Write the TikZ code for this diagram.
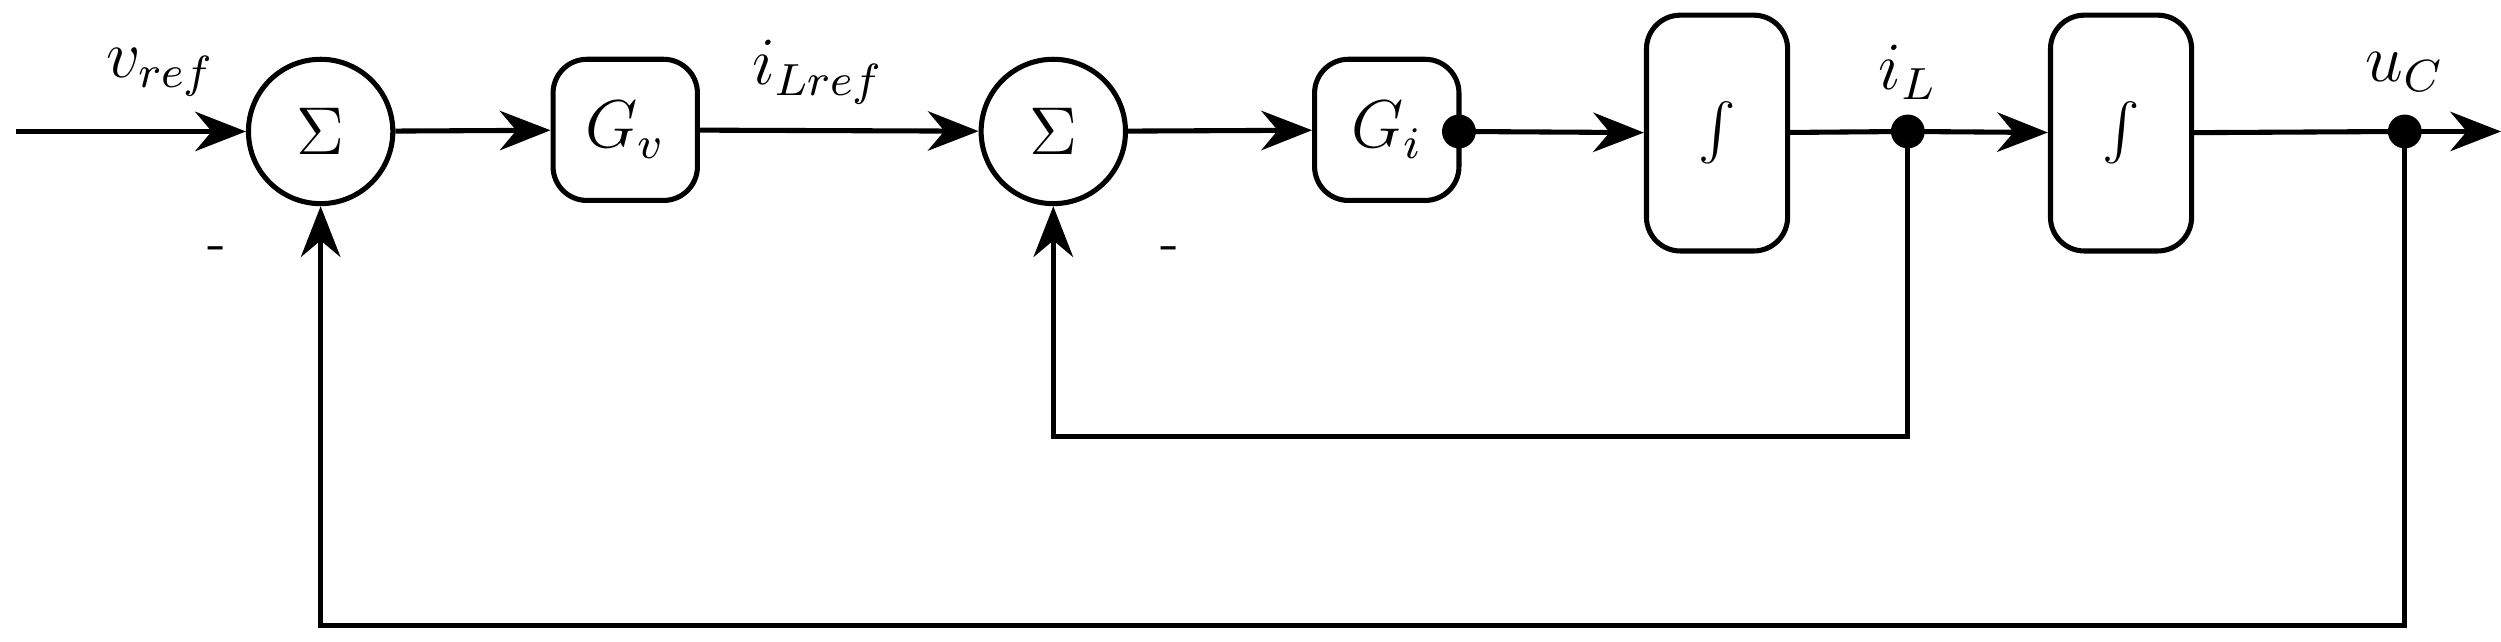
\documentclass[tikz,border=0pt]{standalone}
\usetikzlibrary{arrows.meta}
\begin{document}
\begin{tikzpicture}[x=0.01cm,y=-0.01cm,
  blk/.style={draw,rounded corners=6pt,line width=0.9pt,minimum width=0.9cm,minimum height=0.88cm,font=\large},
  intb/.style={draw,rounded corners=6pt,line width=0.9pt,minimum width=0.88cm,minimum height=1.47cm,font=\Large},
  sumn/.style={draw,circle,line width=0.9pt,minimum size=0.9cm,inner sep=0pt,font=\large},
  ln/.style={line width=0.9pt},
  ar/.style={line width=0.9pt,-{Stealth[length=9pt,width=7pt]}},
  dotn/.style={circle,fill,inner sep=0pt,minimum size=6pt},
  lbl/.style={font=\large}]
\useasboundingbox (0,0) rectangle (1560,400);
\coordinate (in) at (10,82);
\node[sumn] (s1) at (200,82) {$\Sigma$};
\node[blk] (gv) at (390,81) {$G_v$};
\node[sumn] (s2) at (657,82) {$\Sigma$};
\node[blk] (gi) at (865,81) {$G_i$};
\node[dotn] (d0) at (910,82) {};
\node[intb] (i1) at (1071,83) {$\int$};
\node[dotn] (d1) at (1190,82) {};
\node[intb] (i2) at (1323,83) {$\int$};
\node[dotn] (d2) at (1500,82) {};
\coordinate (out) at (1560,82);
\coordinate (f1) at (1190,272);
\coordinate (f1b) at (657,272);
\coordinate (f2) at (1500,390);
\coordinate (f2b) at (200,390);
\node[lbl] (lv) at (100,45) {$v_{ref}$};
\node[lbl] (li) at (510,45) {$i_{Lref}$};
\node[lbl] (lil) at (1190,45) {$i_L$};
\node[lbl] (luc) at (1500,45) {$u_C$};
\node (m1) at (135,158) {-};
\node (m2) at (730,158) {-};
\draw[ar] (in) -- (s1);
\draw[ar] (s1) -- (gv);
\draw[ar] (gv) -- (s2);
\draw[ar] (s2) -- (gi);
\draw[ar] (d0.center) -- (i1);
\draw[ln] (i1) -- (d1.center);
\draw[ar] (d1.center) -- (i2);
\draw[ln] (i2) -- (d2.center);
\draw[ar] (d2.center) -- (out);
\draw[ar] (d1.center) -- (f1) -- (f1b) -- (s2);
\draw[ar] (d2.center) -- (f2) -- (f2b) -- (s1);
\end{tikzpicture}
\end{document}
